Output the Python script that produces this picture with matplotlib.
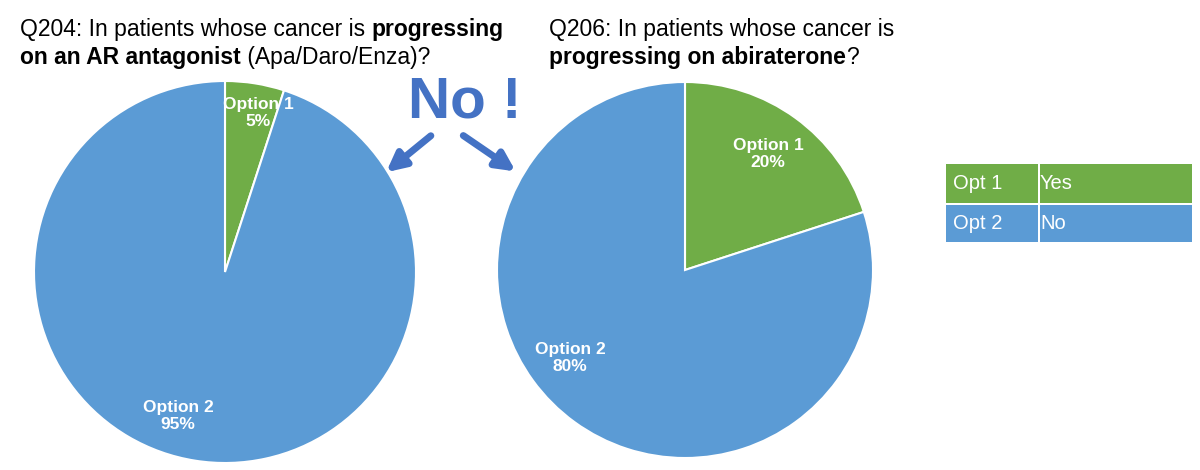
import matplotlib
matplotlib.use("Agg")
import matplotlib.pyplot as plt
from matplotlib.patches import Rectangle

plt.rcParams['font.family'] = ['Liberation Sans', 'DejaVu Sans']

# data
labels = ["Option 1", "Option 2"]
q204 = [5, 95]
q206 = [20, 80]
colors = ["#70AD47", "#5B9BD5"]
legend_codes = ["Opt 1", "Opt 2"]
legend_names = ["Yes", "No"]

W, H = 1200, 470
fig = plt.figure(figsize=(12, 4.7), dpi=100)
ax = fig.add_axes([0, 0, 1, 1])


def py(y):
    # pixel row (from top) -> data y
    return H - y


def draw_pie(vals, cx, cy, r, label_pos):
    ax.pie(vals, colors=colors, startangle=90, counterclock=False,
           center=(cx, py(cy)), radius=r, frame=True,
           wedgeprops=dict(edgecolor='white', linewidth=1.5))
    for lab, v, (lx, ly) in zip(labels, vals, label_pos):
        ax.text(lx, py(ly), f"{lab}\n{v}%", color='white', fontsize=12.5,
                fontweight='bold', ha='center', va='center', linespacing=1.15)


draw_pie(q204, 225, 272, 191, [(258, 113), (178, 416)])
draw_pie(q206, 685, 270, 188, [(768, 154), (570, 358)])
ax.set_xlim(0, W)
ax.set_ylim(0, H)
ax.set_aspect('equal')
ax.axis('off')


def rich_line(x, y, parts, size=16.5):
    t = ax.text(x, py(y), parts[0][0], fontsize=size,
                fontweight='bold' if parts[0][1] else 'normal', va='baseline', ha='left')
    for s, b in parts[1:]:
        t = ax.annotate(s, xy=(1, 0), xycoords=t, va='bottom', ha='left',
                        fontsize=size, fontweight='bold' if b else 'normal')


rich_line(20, 36, [("Q204: In patients whose cancer is ", False), ("progressing", True)])
rich_line(20, 64, [("on an AR antagonist", True), (" (Apa/Daro/Enza)?", False)])
rich_line(549, 36, [("Q206: In patients whose cancer is", False)])
rich_line(549, 64, [("progressing on abiraterone", True), ("?", False)])

# "No !" callout
blue = "#4472C4"
ax.text(465, py(103), "No !", fontsize=42, fontweight='bold', color=blue,
        ha='center', va='center')
ax.annotate("", xy=(384, py(174)), xytext=(433, py(134)),
            arrowprops=dict(arrowstyle='-|>', color=blue, lw=5, mutation_scale=28))
ax.annotate("", xy=(518, py(173)), xytext=(461, py(134)),
            arrowprops=dict(arrowstyle='-|>', color=blue, lw=5, mutation_scale=28))

# legend table
x0, x1, x2 = 946, 1038, 1192
rows = [(164, 203), (205, 242)]
for (top, bot), code, name, c in zip(rows, legend_codes, legend_names, colors):
    ax.add_patch(Rectangle((x0, py(bot)), x1 - x0, bot - top, facecolor=c, edgecolor='none'))
    ax.add_patch(Rectangle((x1 + 2, py(bot)), x2 - x1 - 2, bot - top, facecolor=c, edgecolor='none'))
    ym = py((top + bot) / 2)
    ax.text(x0 + 7, ym, code, color='white', fontsize=14.5, va='center', ha='left')
    ax.text(x1 + 2, ym, name, color='white', fontsize=14.5, va='center', ha='left')

fig.savefig("out.png", dpi=100, facecolor='white')
